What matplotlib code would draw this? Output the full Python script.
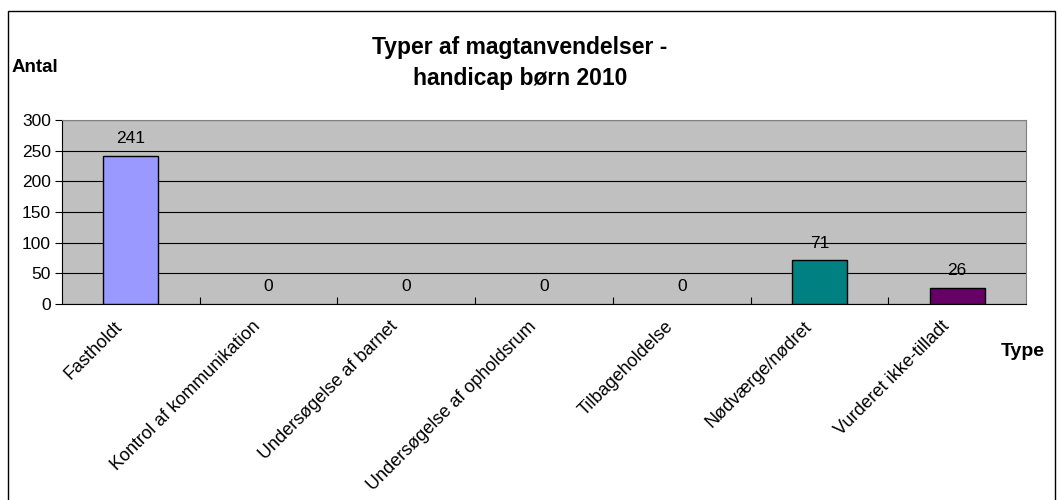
import matplotlib.pyplot as plt
from matplotlib.patches import Rectangle
from matplotlib.transforms import ScaledTranslation

# Data
categories = ['Fastholdt', 'Kontrol af kommunikation', 'Undersøgelse af barnet',
              'Undersøgelse af opholdsrum', 'Tilbageholdelse', 'Nødværge/nødret',
              'Vurderet ikke-tilladt']
values = [241, 0, 0, 0, 0, 71, 26]
bar_colors = ['#9999FF', '#9999FF', '#9999FF', '#9999FF', '#9999FF', '#008080', '#660066']
y_ticks = [0, 50, 100, 150, 200, 250, 300]

plt.rcParams['font.family'] = ['Liberation Sans', 'DejaVu Sans']

fig = plt.figure(figsize=(10.58, 5.0), dpi=100)

# outer chart frame
fig.patches.append(Rectangle((8 / 1058, -0.1), 1047 / 1058, 1.1 - 11 / 500,
                             transform=fig.transFigure, fill=False,
                             edgecolor='black', linewidth=1.0))

ax = fig.add_axes([62 / 1058, 1 - 304 / 500, 964 / 1058, 184 / 500])
ax.set_facecolor('#C0C0C0')

x = list(range(len(categories)))
edges = ['black' if v > 0 else 'none' for v in values]
ax.bar(x, values, width=0.4, color=bar_colors, edgecolor=edges, linewidth=1.0, zorder=3)

for xi, v in zip(x, values):
    ax.annotate(str(v), (xi, v), xytext=(0, 7), textcoords='offset points',
                ha='center', va='bottom', fontsize=12.5)

ax.set_xlim(-0.5, len(categories) - 0.5)
ax.set_ylim(0, 300)
ax.set_yticks(y_ticks)
ax.yaxis.grid(True, color='black', linewidth=0.8, zorder=1)
ax.set_axisbelow(True)
ax.tick_params(axis='y', labelsize=12.5, length=5, direction='out', width=0.8, pad=3)

# category ticks sit between the bars
ax.set_xticks([i + 0.5 for i in x[:-1]], minor=True)
ax.set_xticks(x)
ax.set_xticklabels(categories, rotation=45, ha='right', rotation_mode='anchor', fontsize=13)
ax.tick_params(axis='x', which='major', length=0, pad=10)
ax.tick_params(axis='x', which='minor', length=5, direction='in', width=0.8)
shift = ScaledTranslation(-12 / 72, 0, fig.dpi_scale_trans)
for lbl in ax.get_xticklabels():
    lbl.set_transform(lbl.get_transform() + shift)

for side in ['top', 'right']:
    ax.spines[side].set_color('#808080')
for side in ['left', 'bottom']:
    ax.spines[side].set_color('black')

fig.text(520 / 1058, 1 - 63 / 500, 'Typer af magtanvendelser -\nhandicap børn 2010',
         ha='center', va='center', fontsize=16.5, fontweight='bold', linespacing=1.45)
fig.text(12 / 1058, 1 - 68 / 500, 'Antal', ha='left', va='center',
         fontsize=13.5, fontweight='bold')
fig.text(1001 / 1058, 1 - 352 / 500, 'Type', ha='left', va='center',
         fontsize=14, fontweight='bold')

plt.savefig('out.png', dpi=100)
